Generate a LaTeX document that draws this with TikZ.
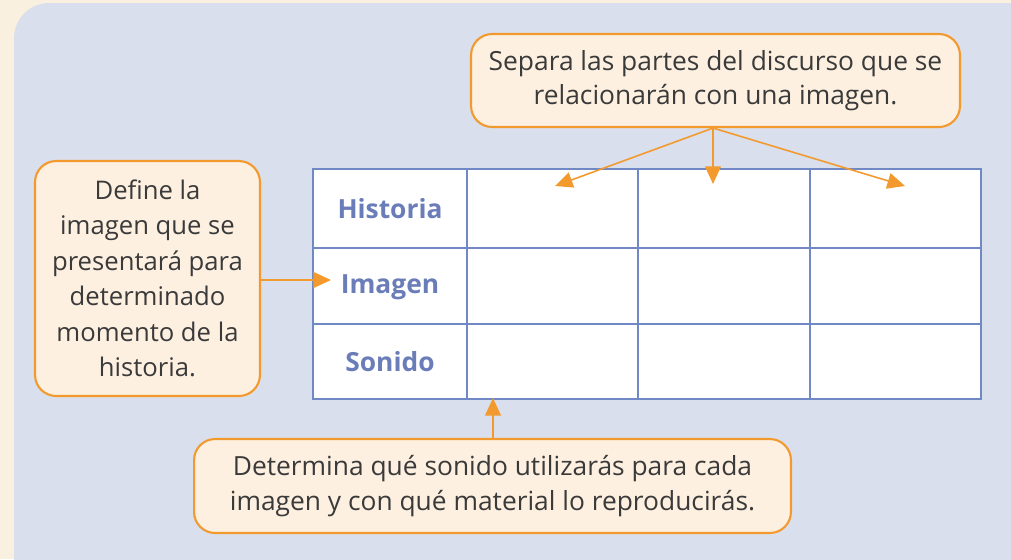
\documentclass[tikz,border=0pt]{standalone}
\usepackage{fontspec}
\setmainfont{Open Sans}
\usetikzlibrary{arrows.meta}
\definecolor{crema}{HTML}{FAF0DF}
\definecolor{panel}{HTML}{D9DFED}
\definecolor{naranja}{HTML}{F39A2E}
\definecolor{fondonota}{HTML}{FDF0E1}
\definecolor{rejilla}{HTML}{7088C4}
\definecolor{titulo}{HTML}{6A7DB8}
\definecolor{texto}{HTML}{3A3A3A}
\tikzset{
  nota/.style={draw=naranja, line width=1.2pt, fill=fondonota, rounded corners=12,
    align=center, text=texto, inner sep=0pt, font=\fontsize{15}{19}\selectfont},
  fila/.style={text=titulo, font=\bfseries\fontsize{15}{17}\selectfont},
  flecha/.style={draw=naranja, line width=0.9pt, -{Triangle[length=10pt,width=9pt]}}
}
\begin{document}
\begin{tikzpicture}[x=0.02cm, y=-0.02cm]
    \clip (0,0) rectangle (1011,559);
    \fill [crema] (0,0) rectangle (1011,559);
    \fill [panel, rounded corners=20] (14,3) rectangle (1050,600);
    % tabla
    \fill [white] (313,169) rectangle (981,399);
    \draw [rejilla, line width=0.7pt] (313,169) rectangle (981,399);
    \foreach \x in {467,638,810}
      \draw [rejilla, line width=0.7pt] (\x,169) -- (\x,399);
    \foreach \y in {248,324}
      \draw [rejilla, line width=0.7pt] (313,\y) -- (981,\y);
    \node [fila] (historia) at (390,209) {Historia};
    \node [fila] (imagen) at (390,287) {Imagen};
    \node [fila] (sonido) at (390,362) {Sonido};
    \coordinate (c1) at (555,186);
    \coordinate (c2) at (713,184);
    \coordinate (c3) at (905,186);
    \coordinate (c4) at (493,398);
    \coordinate (c5) at (331,280);
    % notas
    \node [nota, minimum width=9.78cm, minimum height=1.86cm] (partes) at (715.5,80.5)
      {Separa las partes del discurso que se\\relacionarán con una imagen.};
    \node [nota, minimum width=4.5cm, minimum height=4.7cm,
      font=\fontsize{14.6}{20.2}\selectfont] (define) at (147.5,278.5)
      {Define la\\imagen que se\\presentará para\\determinado\\momento de la\\historia.};
    \node [nota, minimum width=11.94cm, minimum height=1.88cm,
      font=\fontsize{15}{20}\selectfont] (sonidos) at (492.5,486)
      {Determina qué sonido utilizarás para cada\\imagen y con qué material lo reproducirás.};
    % flechas
    \draw [flecha] (partes.south -| c2) -- (c1);
    \draw [flecha] (partes.south -| c2) -- (c2);
    \draw [flecha] (partes.south -| c2) -- (c3);
    \draw [flecha] (define.east |- c5) -- (c5);
    \draw [flecha] (sonidos.north -| c4) -- (c4);
\end{tikzpicture}
\end{document}
